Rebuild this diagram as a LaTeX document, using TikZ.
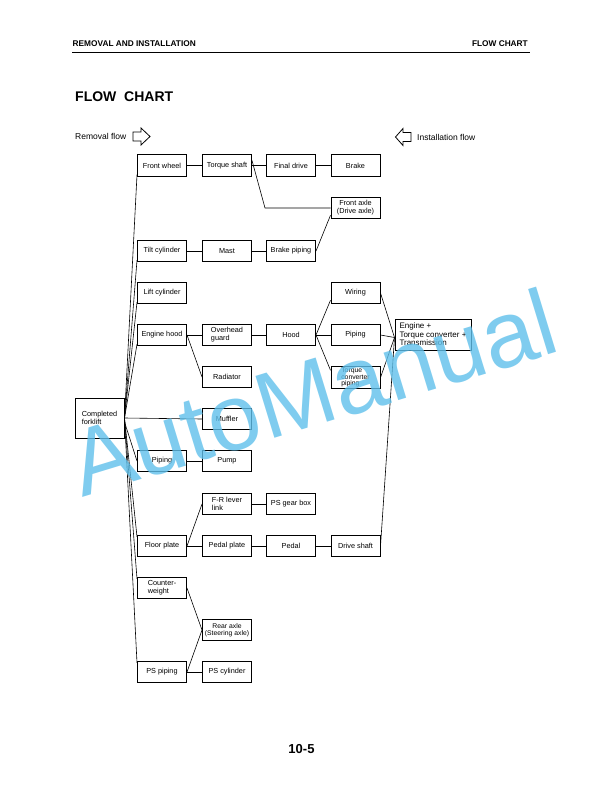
\documentclass[tikz,border=0pt]{standalone}
\usepackage{fontspec}
\setmainfont{Liberation Sans}
\begin{document}
\begin{tikzpicture}[x=1pt,y=-1pt,
  box/.style={draw,line width=1pt,minimum width=49pt,minimum height=21.5pt,inner sep=1pt,
    font=\fontsize{7.3}{7.9}\selectfont,align=center},
  lbox/.style={box,align=left},
  conn/.style={line width=0.6pt},
  hdr/.style={font=\fontsize{8.3}{9}\selectfont\bfseries,inner sep=0pt},
  flowlbl/.style={font=\fontsize{8.5}{9}\selectfont,inner sep=0pt,anchor=base west},
  hollow/.style={line width=0.8pt,line join=miter},
  wm/.style={text={rgb,255:red,95;green,192;blue,235},opacity=0.8,inner sep=0pt,
    font=\fontsize{94}{94}\selectfont}]
\useasboundingbox (0,0) rectangle (612,792);
\fill[white] (0,0) rectangle (612,792);
% header
\node[hdr,anchor=base west] (h1) at (72.5,47) {REMOVAL\ AND\ INSTALLATION};
\node[hdr,anchor=base east] (h2) at (528,47) {FLOW CHART};
\draw[line width=1.1pt] (72,52.5) -- (530,52.5);
\node[anchor=base west,inner sep=0pt,font=\fontsize{14}{15}\selectfont\bfseries] (title) at (75,101) {FLOW\ \ CHART};
% flow legends
\node[flowlbl] (rf) at (75,139) {Removal flow};
\draw[hollow] (133,132) -- (141,132) -- (141,128) -- (150,136.5) -- (141,145) -- (141,141) -- (133,141) -- cycle;
\node[flowlbl] (inf) at (417,140) {Installation flow};
\draw[hollow] (411,132.5) -- (403,132.5) -- (403,128.5) -- (395.5,137) -- (403,145.5) -- (403,141.5) -- (411,141.5) -- cycle;
% boxes
\node[box] (fw) at (162,165.5) {Front wheel};
\node[box] (ts) at (227,165.5) {Torque shaft};
\node[box] (fd) at (291,165.5) {Final drive};
\node[box] (br) at (355.5,165.5) {Brake};
\node[box] (fa) at (355.5,208) {Front axle\\(Drive axle)};
\node[box] (tcyl) at (162,251) {Tilt cylinder};
\node[box] (mast) at (227,251) {Mast};
\node[box] (bp) at (291,251) {Brake piping};
\node[box] (lc) at (162,293) {Lift cylinder};
\node[box] (eh) at (162,335) {Engine hood};
\node[lbox] (og) at (227,335) {Overhead\\guard};
\node[box] (hood) at (291,335) {Hood};
\node[box] (wir) at (355.5,293) {Wiring};
\node[box] (pip1) at (355.5,335) {Piping};
\node[lbox,font=\fontsize{6.8}{6.3}\selectfont] (tcp) at (355.5,377.5) {Torque\\converter\\piping};
\node[box,align=left,minimum width=76pt,minimum height=31pt,inner sep=2pt,
  font=\fontsize{8}{8.6}\selectfont] (eng) at (433,334.5) {Engine +\\Torque converter +\\Transmission};
\node[box] (rad) at (227,377) {Radiator};
\node[lbox,minimum height=40pt] (cf) at (99.5,418) {Completed\\forklift};
\node[box] (muf) at (227,419) {Muffler};
\node[box] (pip2) at (162,461) {Piping};
\node[box] (pump) at (227,461) {Pump};
\node[lbox] (fr) at (227,504) {F-R lever\\link};
\node[box] (psg) at (291,504) {PS gear box};
\node[box] (fp) at (162,546) {Floor plate};
\node[box] (pp) at (227,546) {Pedal plate};
\node[box] (ped) at (291,546) {Pedal};
\node[box] (ds) at (355.5,546) {Drive shaft};
\node[lbox] (cw) at (162,588) {Counter-\\weight};
\node[box,font=\fontsize{6.8}{7.5}\selectfont,inner sep=0.5pt] (ra) at (227,630) {Rear axle\\(Steering axle)};
\node[box] (psp) at (162,672) {PS piping};
\node[box] (psc) at (227,672) {PS cylinder};
% connectors: chains
\draw[conn] (fw) -- (ts);
\draw[conn] (ts) -- (fd);
\draw[conn] (fd) -- (br);
\coordinate (k1) at (265,208);
\draw[conn] ([yshift=5pt]ts.east) -- (k1) -- (fa.west);
\draw[conn] (tcyl) -- (mast);
\draw[conn] (mast) -- (bp);
\draw[conn] (bp.east) -- ([yshift=4pt]fa.south west);
\draw[conn] (eh) -- (og);
\draw[conn] (og) -- (hood);
\draw[conn] (eh.east) -- (rad.west);
\draw[conn] (hood.east) -- ([yshift=4pt]wir.south west);
\draw[conn] (hood.east) -- (pip1.west);
\draw[conn] (hood.east) -- ([yshift=-4pt]tcp.north west);
\draw[conn] (wir.east) -- ([yshift=-3pt]eng.west);
\draw[conn] (pip1.east) -- ([yshift=-3pt]eng.west);
\draw[conn] (tcp.east) -- ([yshift=-3pt]eng.west);
\draw[conn] (ds.east) -- ([yshift=-3pt]eng.west);
\draw[conn] (pip2) -- (pump);
\draw[conn] (fr) -- (psg);
\draw[conn] (fp.east) -- (fr.west);
\draw[conn] (fp) -- (pp);
\draw[conn] (pp) -- (ped);
\draw[conn] (ped) -- (ds);
\draw[conn] (cw.east) -- (ra.west);
\draw[conn] (psp.east) -- (ra.west);
\draw[conn] (psp) -- (psc);
% fan from completed forklift
\foreach \n in {fw,tcyl,lc,eh} {\draw[conn] (cf.east) -- ([yshift=2pt]\n.south west);}
\foreach \n in {fp,cw,psp} {\draw[conn] (cf.east) -- ([yshift=-2pt]\n.north west);}
\draw[conn] (cf.east) -- (muf.west);
\draw[conn] ([yshift=-4pt]cf.east) -- (pip2.west);
% page number
\node[anchor=base,inner sep=0pt,font=\fontsize{13}{14}\selectfont\bfseries] (pg) at (301.5,753.5) {10-5};
% watermark
\node[wm,rotate=17] (wmk) at (313,392) {AutoManual};
\end{tikzpicture}
\end{document}
